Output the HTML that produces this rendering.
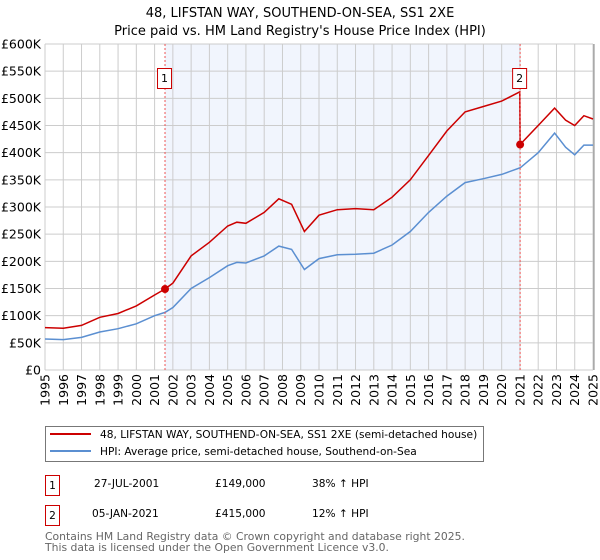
<!DOCTYPE html>
<html><head><meta charset="utf-8"><style>
body{margin:0;background:#fff;font-family:"DejaVu Sans","Liberation Sans",sans-serif;}
#wrap{position:relative;width:600px;height:560px;overflow:hidden}
</style></head><body><div id="wrap">
<svg id="chart" width="600" height="560" xmlns="http://www.w3.org/2000/svg" font-family="DejaVu Sans, Liberation Sans, sans-serif">
<text x="300" y="17" text-anchor="middle" font-size="13">48, LIFSTAN WAY, SOUTHEND-ON-SEA, SS1 2XE</text>
<text x="300" y="35" text-anchor="middle" font-size="13">Price paid vs. HM Land Registry's House Price Index (HPI)</text>
<g id="grid"></g><g id="axes"></g><g id="series"></g><g id="marks"></g>
<g>
<rect x="45.5" y="426.5" width="438" height="35" fill="#fff" stroke="#777"/>
<line x1="50" y1="434" x2="91" y2="434" stroke="#cc0000" stroke-width="2"/>
<text x="100" y="438" font-size="10.6">48, LIFSTAN WAY, SOUTHEND-ON-SEA, SS1 2XE (semi-detached house)</text>
<line x1="50" y1="451" x2="91" y2="451" stroke="#5b8fd1" stroke-width="2"/>
<text x="100" y="455" font-size="10.6">HPI: Average price, semi-detached house, Southend-on-Sea</text>
</g>
<g font-size="10.6">
<rect x="45.5" y="475.5" width="14" height="20" fill="none" stroke="#cc0000"/>
<text x="52.5" y="489" text-anchor="middle">1</text>
<text x="94" y="487">27-JUL-2001</text><text x="215" y="487">£149,000</text><text x="312" y="487">38% ↑ HPI</text>
<rect x="45.5" y="505.5" width="14" height="20" fill="none" stroke="#cc0000"/>
<text x="52.5" y="519" text-anchor="middle">2</text>
<text x="92" y="517">05-JAN-2021</text><text x="215" y="517">£415,000</text><text x="312" y="517">12% ↑ HPI</text>
</g>
<text x="45" y="540" font-size="10.8" fill="#666">Contains HM Land Registry data © Crown copyright and database right 2025.</text>
<text x="45" y="551" font-size="10.8" fill="#666">This data is licensed under the Open Government Licence v3.0.</text>
</svg></div>
<script>
const years=[1995,1996,1997,1998,1999,2000,2001,2002,2003,2004,2005,2006,2007,2008,2009,2010,2011,2012,2013,2014,2015,2016,2017,2018,2019,2020,2021,2022,2023,2024,2025];
const yTicks=[0,50000,100000,150000,200000,250000,300000,350000,400000,450000,500000,550000,600000];
const yTickLabels=["£0","£50K","£100K","£150K","£200K","£250K","£300K","£350K","£400K","£450K","£500K","£550K","£600K"];
const dates=[1995,1996,1997,1998,1999,2000,2001,2001.57,2002,2003,2004,2005,2005.5,2006,2007,2007.8,2008.5,2009.2,2010,2011,2012,2013,2014,2015,2016,2017,2018,2019,2020,2020.99,2021.01,2022,2022.9,2023.5,2024,2024.5,2025];
const hpiValues=[57000,56000,60000,70000,76000,85000,100000,106000,115000,150000,170000,192000,198000,197000,210000,228000,222000,185000,205000,212000,213000,215000,230000,255000,290000,320000,345000,352000,360000,372000,372000,400000,436000,410000,396000,414000,414000];
const priceValues=[78000,77000,82000,97000,104000,118000,138000,149000,160000,210000,235000,265000,272000,270000,290000,315000,305000,255000,285000,295000,297000,295000,318000,350000,395000,440000,475000,485000,495000,512000,415000,450000,482000,460000,450000,468000,462000];
const sales=[{d:2001.57,v:149000,label:"1"},{d:2021.01,v:415000,label:"2"}];
const X0=45,X1=593,Y0=370,Y1=44;
const xs=d=>X0+(d-1995)/30*(X1-X0);
const ys=v=>Y0-v/600000*(Y0-Y1);
const NS="http://www.w3.org/2000/svg";
function mk(parent,tag,attrs){const e=document.createElementNS(NS,tag);for(const k in attrs)e.setAttribute(k,attrs[k]);document.getElementById(parent).appendChild(e);return e;}
let e=mk('grid','rect',{x:xs(sales[0].d),y:Y1,width:xs(sales[1].d)-xs(sales[0].d),height:Y0-Y1,fill:'#f1f5fd'});


years.forEach(y=>{const l=mk('grid','line',{x1:xs(y),x2:xs(y),y1:Y1,y2:Y0,stroke:'#ccc'});


const t=mk('axes','text',{x:0,y:0,'font-size':12.5,'text-anchor':'end',transform:`translate(${xs(y)+4.5},${Y0+4}) rotate(-90)`});t.textContent=y;

});
yTicks.forEach((v,i)=>{const l=mk('grid','line',{x1:X0,x2:X1,y1:ys(v),y2:ys(v),stroke:'#ccc'});


const t=mk('axes','text',{x:41,y:ys(v)+4.5,'font-size':12.5,'text-anchor':'end'});t.textContent=yTickLabels[i];

});
e=mk('grid','line',{x1:X1+1,x2:X1+1,y1:Y1,y2:Y0,stroke:'#888'});


const pts=(arr)=>dates.map((d,i)=>xs(d).toFixed(1)+','+ys(arr[i]).toFixed(1)).join(' ');
e=mk('series','polyline',{points:pts(hpiValues),fill:'none',stroke:'#5b8fd1','stroke-width':1.5});


e=mk('series','polyline',{points:pts(priceValues),fill:'none',stroke:'#cc0000','stroke-width':1.5});


sales.forEach(s=>{const x=xs(s.d);
let l=mk('marks','line',{x1:x,x2:x,y1:Y1,y2:Y0,stroke:'#e55','stroke-dasharray':'2,2'});


let c=mk('marks','circle',{cx:x,cy:ys(s.v),r:4,fill:'#cc0000'});


let r=mk('marks','rect',{x:x-7.5,y:68.5,width:14,height:20,fill:'#fff',stroke:'#cc0000'});


let t=mk('marks','text',{x:x-0.5,y:82,'font-size':11,'text-anchor':'middle'});t.textContent=s.label;

});
</script></body></html>
